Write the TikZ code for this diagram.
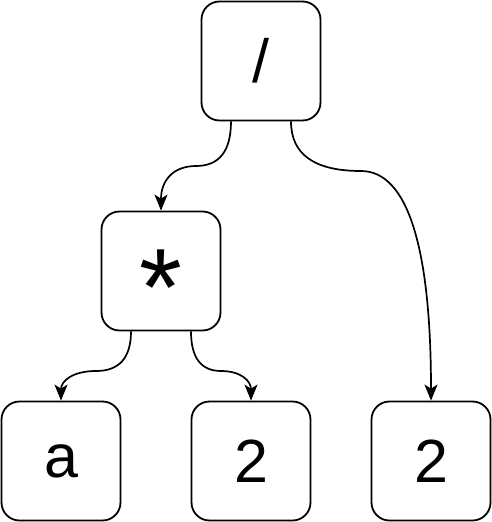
\documentclass[tikz,border=0pt]{standalone}
\usepackage{fontspec}
\setmainfont{Liberation Sans}
\usetikzlibrary{arrows.meta}
\begin{document}
\begin{tikzpicture}[x=1pt,y=-1pt,
  box/.style={draw=black,line width=1.8pt,rounded corners=18pt,minimum width=119pt,minimum height=119pt,inner sep=0pt,fill=white},
  glyph/.style={font=\fontsize{61}{61}\selectfont,inner sep=0pt},
  edge/.style={draw=black,line width=1.7pt,-{Stealth[length=16pt,width=13pt,inset=4pt]}}]
\useasboundingbox (0,0) rectangle (492,522);
\node[box] (root) at (261,61) {};
\node[box] (mul) at (161,271) {};
\node[box] (a) at (61,461) {};
\node[box] (two) at (251,461) {};
\node[box] (twor) at (431,461) {};
\node[glyph] (troot) at (261,61) {/};
\node[glyph,font=\fontsize{110}{110}\selectfont,anchor=base] (tmul) at (161,325) {*};
\node[glyph] (ta) at (61,461) {a};
\node[glyph] (ttwo) at (251,461) {2};
\node[glyph] (ttwor) at (431,461) {2};
\draw[edge] ([xshift=-30pt]root.south) .. controls (231,151) and (219.33,166) .. (196,166)
  .. controls (172.67,166) and (161,181) .. (mul.north);
\draw[edge] ([xshift=30pt]root.south) .. controls (291,154.33) and (314.33,171) .. (361,171)
  .. controls (407.67,171) and (431,247.67) .. (twor.north);
\draw[edge] ([xshift=-30pt]mul.south) .. controls (131,357.67) and (119.33,371) .. (96,371)
  .. controls (72.67,371) and (61,381) .. (a.north);
\draw[edge] ([xshift=30pt]mul.south) .. controls (191,357.67) and (201,371) .. (221,371)
  .. controls (241,371) and (251,381) .. (two.north);
\end{tikzpicture}
\end{document}
